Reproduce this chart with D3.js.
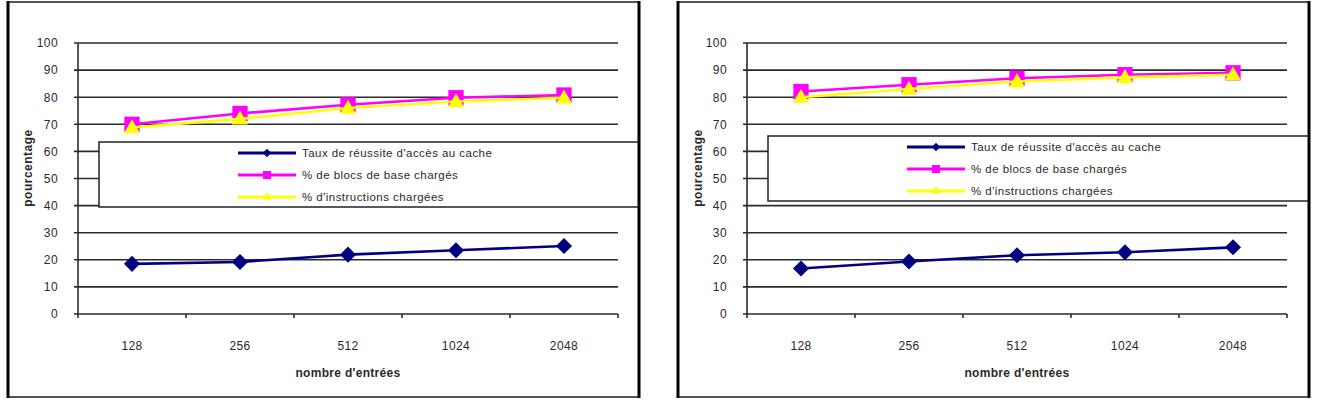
<!DOCTYPE html>
<html>
<head>
<meta charset="utf-8">
<script src="https://cdn.jsdelivr.net/npm/d3@7"></script>
<style>
  body { margin: 0; background: #fff; }
  text { font-family: "Liberation Sans", Arial, sans-serif; }
</style>
</head>
<body>
<svg id="chart" width="1321" height="406"></svg>
<script>
// data
const categories = ["128", "256", "512", "1024", "2048"];
const yTicks = [0, 10, 20, 30, 40, 50, 60, 70, 80, 90, 100];
const seriesNames = [
  "Taux de réussite d'accès au cache",
  "% de blocs de base chargés",
  "% d'instructions chargées"
];

const leftTaux  = [18.5, 19.2, 21.9, 23.5, 25.1];
const leftBlocs = [70, 74, 77.2, 79.8, 80.8];
const leftInstr = [68.8, 72, 76, 78.4, 79.8];

const rightTaux  = [16.8, 19.4, 21.7, 22.8, 24.6];
const rightBlocs = [82.1, 84.6, 87, 88.3, 89];
const rightInstr = [80, 83, 85.8, 87.3, 88.3];

let svg = d3.select("#chart");

let plotW = 540;
let plotH = 271;
let textColor = "#2a2a2a";
let colors = ["#000080", "#ff00ff", "#ffff00"];

function marker(kind, size) {
  if (kind == 0) return d3.symbol().type(d3.symbolSquare).size(size * 0.55)();
  if (kind == 1) return d3.symbol().type(d3.symbolSquare).size(size)();
  return d3.symbol().type(d3.symbolTriangle).size(size * 0.48)();
}

function drawPanel(px, ox, legendTop, series) {
  let panelW = 631;

  let x = d3.scaleBand().domain(categories).range([0, plotW]);
  let y = d3.scaleLinear().domain([0, 100]).range([plotH, 0]);

  let g = svg.append("g").attr("transform", "translate(" + ox + ", 43)");

  // gridlines
  g.selectAll(".grid")
    .data(yTicks)
    .enter()
    .append("line")
    .attr("x1", -4)
    .attr("x2", plotW)
    .attr("y1", d => y(d))
    .attr("y2", d => y(d))
    .attr("stroke", "#2b2b2b")
    .attr("stroke-width", 1.6);

  // y axis
  g.append("line")
    .attr("x1", 0).attr("x2", 0)
    .attr("y1", 0).attr("y2", plotH)
    .attr("stroke", "#2b2b2b")
    .attr("stroke-width", 1.6);

  g.append("g")
    .call(d3.axisLeft(y).tickValues(yTicks).tickSize(0).tickPadding(20))
    .call(s => s.select(".domain").remove())
    .selectAll("text")
      .style("font-size", "12px")
      .style("letter-spacing", "0.4px")
      .attr("fill", textColor);

  // x axis
  g.append("g")
    .attr("transform", "translate(0, " + plotH + ")")
    .call(d3.axisBottom(x).tickSize(0).tickPadding(27))
    .call(s => s.select(".domain").remove())
    .selectAll("text")
      .style("font-size", "12px")
      .style("letter-spacing", "0.4px")
      .attr("fill", textColor);

  let bounds = categories.map(c => x(c)).concat([plotW]);
  g.selectAll(".xtick")
    .data(bounds)
    .enter()
    .append("line")
    .attr("x1", d => d).attr("x2", d => d)
    .attr("y1", plotH).attr("y2", plotH + 4)
    .attr("stroke", "#2b2b2b")
    .attr("stroke-width", 1.6);

  // axis titles
  g.append("text")
    .attr("x", plotW / 2)
    .attr("y", plotH + 63)
    .attr("text-anchor", "middle")
    .style("font-size", "12px")
    .style("font-weight", "bold")
    .style("letter-spacing", "0.3px")
    .attr("fill", textColor)
    .text("nombre d'entrées");

  g.append("text")
    .attr("transform", "translate(" + (px + 24 - ox) + ", 125) rotate(-90)")
    .attr("text-anchor", "middle")
    .style("font-size", "12px")
    .style("font-weight", "bold")
    .style("letter-spacing", "0.5px")
    .attr("fill", textColor)
    .text("pourcentage");

  // series
  let line = d3.line()
    .x((d, i) => x(categories[i]) + x.bandwidth() / 2)
    .y(d => y(d));

  series.forEach(function(vals, k) {
    g.append("path")
      .datum(vals)
      .attr("d", line)
      .attr("fill", "none")
      .attr("stroke", colors[k])
      .attr("stroke-width", 2.6);

    g.selectAll(".m" + k)
      .data(vals)
      .enter()
      .append("path")
      .attr("d", marker(k, 235))
      .attr("transform", function(d, i) {
        let t = "translate(" + (x(categories[i]) + x.bandwidth() / 2) + ", " + y(d) + ")";
        if (k == 0) t += " rotate(45)";
        if (k == 2) t += " translate(0, 1)";
        return t;
      })
      .attr("fill", colors[k]);
  });

  // legend box
  let lx = 21;
  let lw = px + panelW - ox - lx;
  g.append("rect")
    .attr("x", lx)
    .attr("y", legendTop)
    .attr("width", lw)
    .attr("height", 65)
    .attr("fill", "#fff")
    .attr("stroke", "#222")
    .attr("stroke-width", 1.5);

  seriesNames.forEach(function(name, k) {
    let ly = legendTop + 11 + k * 22;
    g.append("line")
      .attr("x1", 160).attr("x2", 218)
      .attr("y1", ly).attr("y2", ly)
      .attr("stroke", colors[k])
      .attr("stroke-width", 3);
    g.append("path")
      .attr("d", marker(k, 64))
      .attr("transform", "translate(189, " + ly + ")" + (k == 0 ? " rotate(45)" : ""))
      .attr("fill", colors[k]);
    g.append("text")
      .attr("x", 224)
      .attr("y", ly + 4)
      .style("font-size", "11.5px")
      .style("letter-spacing", "0.45px")
      .attr("fill", textColor)
      .text(name);
  });

  // panel border
  svg.append("rect")
    .attr("x", px)
    .attr("y", 2)
    .attr("width", panelW)
    .attr("height", 395)
    .attr("fill", "none")
    .attr("stroke", "#555")
    .attr("stroke-width", 2);
  svg.append("line")
    .attr("x1", px).attr("x2", px)
    .attr("y1", 1).attr("y2", 398)
    .attr("stroke", "#000")
    .attr("stroke-width", 3);
  svg.append("line")
    .attr("x1", px + panelW).attr("x2", px + panelW)
    .attr("y1", 1).attr("y2", 398)
    .attr("stroke", "#000")
    .attr("stroke-width", 3);
}

drawPanel(8, 78, 99, [leftTaux, leftBlocs, leftInstr]);
drawPanel(678, 747, 93, [rightTaux, rightBlocs, rightInstr]);
</script>
</body>
</html>
